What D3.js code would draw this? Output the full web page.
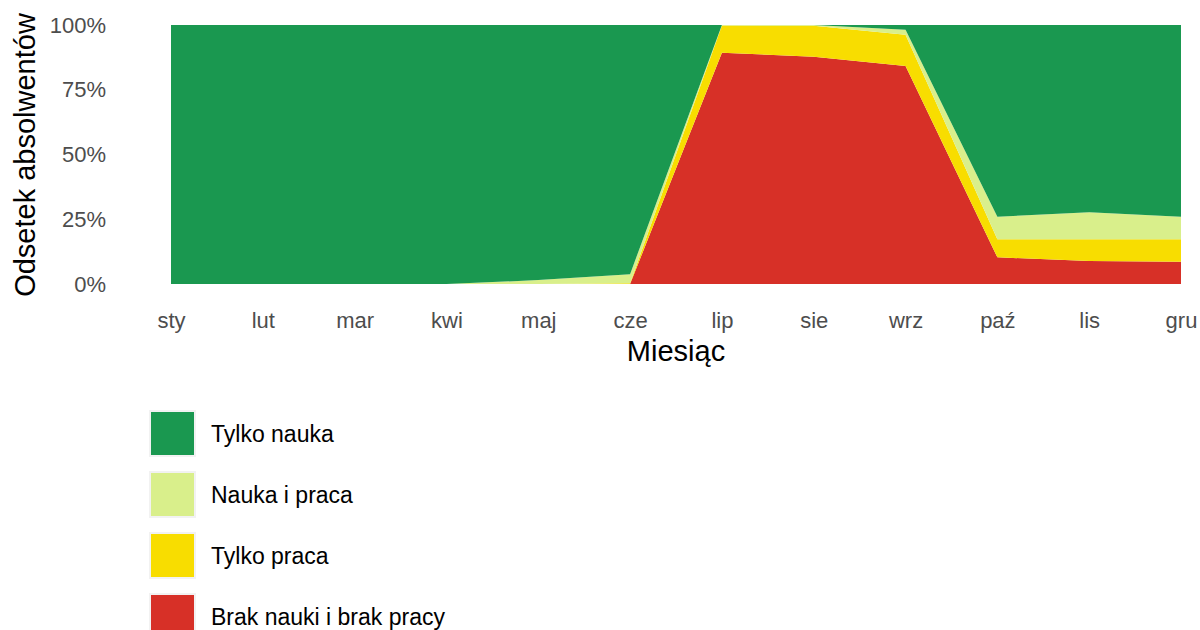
<!DOCTYPE html>
<html><head><meta charset="utf-8">
<script src="https://cdn.jsdelivr.net/npm/d3@7"></script>
<style>body{margin:0;background:#fff;} svg{display:block;font-family:Arial,"Liberation Sans",sans-serif;}</style>
</head><body>
<svg id="c" width="1200" height="630"></svg>
<script>
const months = ["sty","lut","mar","kwi","maj","cze","lip","sie","wrz","paź","lis","gru"];
const seriesNames = ["Brak nauki i brak pracy","Tylko praca","Nauka i praca","Tylko nauka"];
const brak      = [0,0,0,0,0,0,89.3,87.8,84.2,10.3,8.9,8.6];
const praca     = [0,0,0,0,0,0.3,10.5,12.0,12.0,7.0,8.4,8.7];
const naukaPraca= [0,0,0,0,1.5,3.5,0.2,0.3,2.0,8.7,10.4,8.7];
const nauka     = [100,100,100,100,98.5,96.2,0,0,1.8,74.0,72.3,74.0];
const colors = ["#d73027","#f8dd00","#d9ef8b","#1a9850"];
const yTicks = [0,25,50,75,100];
const legendOrder = ["Tylko nauka","Nauka i praca","Tylko praca","Brak nauki i brak pracy"];

const rows = months.map((m,i)=>({month:m, [seriesNames[0]]:brak[i],[seriesNames[1]]:praca[i],[seriesNames[2]]:naukaPraca[i],[seriesNames[3]]:nauka[i]}));
const stack = d3.stack().keys(seriesNames).offset(d3.stackOffsetExpand);
const layers = stack(rows);

const svg = d3.select("#c");
const x = d3.scalePoint().domain(months).range([171,1181]);
const y = d3.scaleLinear().domain([0,1]).range([284,25]);
const color = d3.scaleOrdinal().domain(seriesNames).range(colors);

const area = d3.area().x(d=>x(d.data.month)).y0(d=>y(d[0])).y1(d=>y(d[1]));
svg.append("g").selectAll("path").data(layers).join("path")
  .attr("d",area).attr("fill",d=>color(d.key));

// y axis
const ya = svg.append("g").attr("transform","translate(106,0)")
  .call(d3.axisLeft(y).tickValues(yTicks.map(v=>v/100)).tickFormat(v=>Math.round(v*100)+"%").tickSize(0).tickPadding(0));
ya.select(".domain").remove();
ya.selectAll("text").attr("font-size",22).attr("fill","#4d4d4d").attr("font-family","Arial,'Liberation Sans',sans-serif").attr("x",0);

// x axis
const xa = svg.append("g").attr("transform","translate(0,300)")
  .call(d3.axisBottom(x).tickSize(0).tickPadding(0));
xa.select(".domain").remove();
xa.selectAll("text").attr("font-size",22).attr("fill","#4d4d4d").attr("font-family","Arial,'Liberation Sans',sans-serif").attr("dy","0.71em").attr("y",12);

// axis titles
svg.append("text").attr("x",676).attr("y",361).attr("text-anchor","middle").attr("font-size",29).attr("fill","#000").text("Miesiąc");
svg.append("text").attr("transform","translate(35,155) rotate(-90)").attr("text-anchor","middle").attr("font-size",29).attr("fill","#000").text("Odsetek absolwentów");

// legend
const lg = svg.append("g");
legendOrder.forEach((name,i)=>{
  const gy = 410 + i*61;
  lg.append("rect").attr("x",149).attr("y",gy).attr("width",47).attr("height",47).attr("fill","#f2f2f2");
  lg.append("rect").attr("x",151).attr("y",gy+2).attr("width",43).attr("height",43).attr("fill",color(name));
  lg.append("text").attr("x",211).attr("y",gy+24).attr("dy","0.35em").attr("font-size",23).attr("fill","#000").text(name);
});
</script>
</body></html>
